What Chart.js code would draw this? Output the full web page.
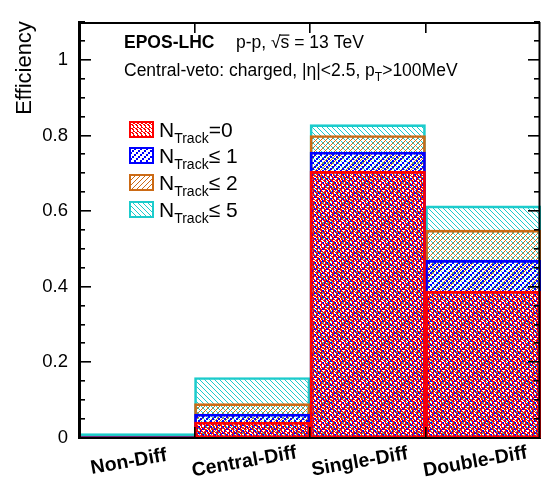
<!DOCTYPE html>
<html>
<head>
<meta charset="utf-8">
<script src="https://cdn.jsdelivr.net/npm/chart.js@4.4.1/dist/chart.umd.min.js"></script>
<style>
html,body{margin:0;padding:0;background:#fff;}
#wrap{width:541px;height:479px;position:relative;}
</style>
</head>
<body>
<div id="wrap"><canvas id="c" width="541" height="479"></canvas></div>
<script>
// ---- data ----
const categories = ['Non-Diff', 'Central-Diff', 'Single-Diff', 'Double-Diff'];
const nTrack0   = [0.003, 0.042, 0.705, 0.388];
const nTrackLe1 = [0.004, 0.063, 0.756, 0.470];
const nTrackLe2 = [0.005, 0.091, 0.800, 0.550];
const nTrackLe5 = [0.012, 0.160, 0.829, 0.614];
const seriesSuffix = ['=0', '\u2264 1', '\u2264 2', '\u2264 5'];
const yTicks = [0, 0.2, 0.4, 0.6, 0.8, 1];
const yMinorStep = 0.05;

// ---- styles ----
const FONT = '"Liberation Sans", Arial, Helvetica, sans-serif';
const colors = ['#ff0000', '#0000ff', '#cc6a14', '#1ccccc'];

function makePattern(size, color, fn) {
  const t = document.createElement('canvas');
  t.width = size; t.height = size;
  const g = t.getContext('2d');
  g.fillStyle = color;
  for (let x = 0; x < size; x++) for (let y = 0; y < size; y++) if (fn(x, y)) g.fillRect(x, y, 1, 1);
  return g.createPattern(t, 'repeat');
}
const redCells = ['X..X', 'XX..', '.X..', '.XX.'];
const patterns = [
  makePattern(4, colors[0], (x, y) => redCells[y][x] === 'X'),
  makePattern(6, colors[1], (x, y) => ((x + 2 * Math.floor(y / 2)) % 6) < 2),
  makePattern(5, colors[2], (x, y) => ((x + y) % 5) === 0),
  makePattern(5, colors[3], (x, y) => ((x - y + 10) % 5) === 0)
];

const seriesData = [nTrack0, nTrackLe1, nTrackLe2, nTrackLe5];
const datasets = seriesData.map((d, i) => ({
  label: 'N_Track' + seriesSuffix[i],
  data: d,
  backgroundColor: patterns[i],
  borderColor: colors[i],
  borderWidth: 2,
  borderSkipped: false,
  grouped: false,
  barPercentage: 1,
  categoryPercentage: 1
}));

const decor = {
  id: 'decor',
  afterDraw(chart) {
    const ctx = chart.ctx;
    const a = chart.chartArea;
    const xs = chart.scales.x, ys = chart.scales.y;
    ctx.save();
    ctx.globalAlpha = 1;
    ctx.globalCompositeOperation = 'source-over';
    ctx.setLineDash([]);
    ctx.fillStyle = '#000000';
    ctx.strokeStyle = '#000000';
    const L0 = Math.round(a.left), R0 = Math.round(a.right) - 1, T0 = Math.round(a.top), B0 = Math.round(a.bottom);
    // frame
    ctx.lineWidth = 2;
    ctx.beginPath();
    ctx.moveTo(L0 + 1, B0);
    ctx.lineTo(L0 + 1, T0 + 1);
    ctx.lineTo(R0 - 0.5, T0 + 1);
    ctx.lineTo(R0 - 0.5, B0);
    ctx.lineTo(L0 + 1, B0);
    ctx.closePath();
    ctx.stroke();
    // y ticks
    const nMinor = Math.round(1.1 / yMinorStep);
    for (let k = 0; k <= nMinor; k++) {
      const v = k * yMinorStep;
      const y = Math.round(ys.getPixelForValue(v));
      const major = yTicks.some(t => Math.abs(t - v) < 1e-6);
      const L = major ? 12 : 6;
      ctx.fillRect(L0, y - 1, L, 1.6);
      ctx.fillRect(R0 - L, y - 1, L, 1.6);
    }
    // x ticks at bin edges
    for (let i = 1; i < categories.length; i++) {
      const x = Math.round((xs.getPixelForValue(i - 1) + xs.getPixelForValue(i)) / 2);
      ctx.fillRect(x - 1, T0, 1.6, 11);
      ctx.fillRect(x - 1, B0 - 11, 1.6, 11);
    }
    // x labels (rotated)
    ctx.font = 'bold 19.5px ' + FONT;
    ctx.textAlign = 'center';
    ctx.textBaseline = 'middle';
    categories.forEach((c, i) => {
      const x = xs.getPixelForValue(i) - 8;
      ctx.save();
      ctx.translate(x, 462);
      ctx.rotate(-10 * Math.PI / 180);
      ctx.fillText(c, 0, 0);
      ctx.restore();
    });
    // y title
    ctx.save();
    ctx.translate(31, 68);
    ctx.rotate(-Math.PI / 2);
    ctx.font = '22px ' + FONT;
    ctx.textAlign = 'center';
    ctx.textBaseline = 'alphabetic';
    ctx.fillText('Efficiency', 0, 0);
    ctx.restore();
    // header text
    ctx.textAlign = 'left';
    ctx.textBaseline = 'alphabetic';
    ctx.font = 'bold 17.5px ' + FONT;
    ctx.fillText('EPOS-LHC', 124, 48);
    ctx.font = '17.5px ' + FONT;
    let x = 236;
    ctx.fillText('p-p, ', x, 48); x += ctx.measureText('p-p, ').width;
    ctx.fillText('\u221A', x, 48); x += ctx.measureText('\u221A').width;
    const sw = ctx.measureText('s').width;
    ctx.fillText('s', x, 48);
    ctx.fillRect(x - 1, 34.5, sw + 1, 1.2);
    x += sw;
    ctx.fillText(' = 13 TeV', x, 48);
    x = 124;
    const l2a = 'Central-veto: charged, |\u03B7|<2.5, p';
    ctx.fillText(l2a, x, 76); x += ctx.measureText(l2a).width;
    ctx.font = '12px ' + FONT;
    ctx.fillText('T', x, 81); x += ctx.measureText('T').width;
    ctx.font = '17.5px ' + FONT;
    ctx.fillText('>100MeV', x, 76);
    // legend
    const boxY = [122, 148, 175, 202];
    for (let i = 0; i < 4; i++) {
      const by = boxY[i];
      ctx.fillStyle = '#fff';
      ctx.fillRect(130, by, 23, 15);
      ctx.fillStyle = patterns[i];
      ctx.fillRect(130, by, 23, 15);
      ctx.strokeStyle = colors[i];
      ctx.lineWidth = 2;
      ctx.strokeRect(130, by, 23, 15);
      ctx.fillStyle = '#000';
      let lx = 159;
      ctx.font = '21px ' + FONT;
      ctx.fillText('N', lx, by + 15); lx += ctx.measureText('N').width;
      ctx.font = '14px ' + FONT;
      ctx.fillText('Track', lx, by + 21); lx += ctx.measureText('Track').width;
      ctx.font = '21px ' + FONT;
      ctx.fillText(seriesSuffix[i], lx, by + 15);
    }
    ctx.restore();
  }
};

new Chart(document.getElementById('c'), {
  type: 'bar',
  data: { labels: categories, datasets },
  options: {
    responsive: false,
    animation: false,
    devicePixelRatio: 1,
    layout: { padding: { top: 10, right: 0, left: 0, bottom: 0 } },
    plugins: { legend: { display: false }, tooltip: { enabled: false }, title: { display: false } },
    scales: {
      x: {
        type: 'category',
        offset: true,
        grid: { display: false, drawTicks: false },
        border: { display: true, color: '#000', width: 2 },
        ticks: { display: false },
        afterFit(s) { s.height = 41; }
      },
      y: {
        min: 0, max: 1.1,
        grid: { display: false, drawTicks: false },
        border: { display: true, color: '#000', width: 2 },
        afterBuildTicks(s) { s.ticks = yTicks.map(v => ({ value: v })); },
        afterFit(s) { s.width = 79; },
        ticks: {
          padding: 11,
          color: '#000',
          font: { family: FONT, size: 18.5 },
          callback: v => String(Math.round(v * 10) / 10)
        }
      }
    }
  },
  plugins: [decor]
});
</script>
</body>
</html>
